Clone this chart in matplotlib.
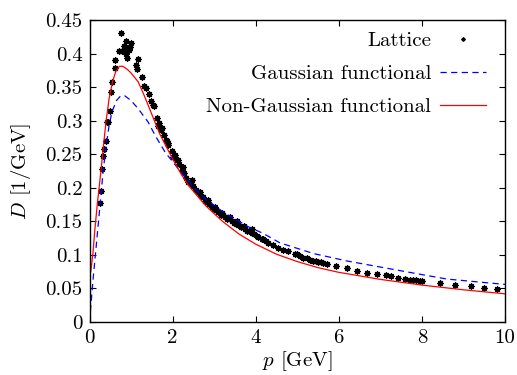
import matplotlib
matplotlib.use("Agg")
import matplotlib.pyplot as plt

plt.rcParams['font.family'] = 'serif'
plt.rcParams['font.serif'] = ['cmr10', 'DejaVu Serif']
plt.rcParams['mathtext.fontset'] = 'cm'
plt.rcParams['axes.formatter.use_mathtext'] = True
plt.rcParams['font.size'] = 15

# Lattice data (p in GeV, D in 1/GeV)
lat_p = [0.25, 0.27, 0.30, 0.33, 0.36, 0.39, 0.43, 0.45, 0.49, 0.51, 0.55, 0.61, 0.62,
         0.70, 0.75, 0.79, 0.83, 0.87, 0.87, 0.90, 0.91, 0.95, 0.97, 1.01, 1.11, 1.14,
         1.17, 1.26, 1.30, 1.35, 1.43, 1.49, 1.54, 1.55, 1.62, 1.66, 1.67, 1.72, 1.74,
         1.79, 1.83, 1.86, 1.88, 1.90, 1.98, 2.02, 2.06, 2.10, 2.14, 2.16, 2.22, 2.25,
         2.28, 2.33, 2.38, 2.42, 2.44, 2.46, 2.50, 2.56, 2.62, 2.66, 2.68, 2.74, 2.78,
         2.82, 2.85, 2.88, 2.94, 3.00, 3.03, 3.05, 3.10, 3.16, 3.20, 3.21, 3.26, 3.32,
         3.37, 3.38, 3.42, 3.48, 3.53, 3.55, 3.58, 3.64, 3.69, 3.72, 3.74, 3.80, 3.85,
         3.90, 3.90, 3.96, 4.02, 4.06, 4.14, 4.18, 4.24, 4.30, 4.42, 4.54, 4.66, 4.78,
         4.95, 4.99, 5.07, 5.15, 5.23, 5.31, 5.39, 5.45, 5.51, 5.57, 5.63, 5.71, 5.93,
         6.20, 6.45, 6.67, 6.91, 7.14, 7.26, 7.43, 7.59, 7.71, 7.79, 7.87, 7.95, 8.00,
         8.44, 8.80, 9.17, 9.49, 9.81]
lat_D = [0.177, 0.195, 0.228, 0.248, 0.258, 0.269, 0.298, 0.298, 0.314, 0.343, 0.357, 0.390, 0.379,
         0.404, 0.430, 0.404, 0.412, 0.419, 0.400, 0.394, 0.408, 0.405, 0.410, 0.415, 0.383, 0.377,
         0.392, 0.365, 0.352, 0.348, 0.340, 0.329, 0.323, 0.322, 0.304, 0.292, 0.297, 0.286, 0.289,
         0.279, 0.271, 0.269, 0.266, 0.264, 0.255, 0.246, 0.249, 0.242, 0.241, 0.236, 0.227, 0.231,
         0.222, 0.214, 0.209, 0.209, 0.206, 0.211, 0.202, 0.197, 0.194, 0.193, 0.188, 0.186, 0.181,
         0.179, 0.182, 0.176, 0.172, 0.168, 0.171, 0.167, 0.164, 0.160, 0.163, 0.159, 0.157, 0.154,
         0.153, 0.157, 0.150, 0.148, 0.146, 0.150, 0.145, 0.142, 0.141, 0.143, 0.139, 0.136, 0.135,
         0.133, 0.138, 0.131, 0.128, 0.127, 0.123, 0.124, 0.121, 0.118, 0.115, 0.111, 0.108, 0.106,
         0.102, 0.101, 0.098, 0.096, 0.095, 0.093, 0.091, 0.091, 0.090, 0.089, 0.088, 0.087, 0.084,
         0.080, 0.076, 0.073, 0.072, 0.070, 0.068, 0.066, 0.064, 0.063, 0.062, 0.062, 0.061, 0.061,
         0.058, 0.055, 0.053, 0.050, 0.049]

# Gaussian functional
gauss_p = [0.0, 0.085, 0.16, 0.25, 0.33, 0.40, 0.47, 0.54, 0.65, 0.75, 0.85, 1.0, 1.17,
           1.41, 1.58, 1.82, 2.14, 2.54, 2.78, 3.26, 3.82, 4.18, 4.58, 5.39, 6.19, 6.99,
           7.79, 8.6, 10.0]
gauss_D = [0.0, 0.063, 0.112, 0.172, 0.226, 0.262, 0.292, 0.313, 0.330, 0.337, 0.337, 0.330, 0.318,
           0.298, 0.278, 0.253, 0.228, 0.199, 0.184, 0.162, 0.142, 0.132, 0.118, 0.102, 0.091, 0.082,
           0.073, 0.064, 0.056]

# Non-Gaussian functional
ng_p = [0.03, 0.084, 0.125, 0.19, 0.27, 0.34, 0.40, 0.47, 0.55, 0.63, 0.72, 0.80, 0.90, 1.0,
        1.17, 1.30, 1.49, 1.60, 1.70, 2.0, 2.2, 2.4, 2.8, 3.2, 3.6, 4.0, 4.5, 5.0, 5.5, 6.0,
        7.0, 8.0, 9.0, 10.0]
ng_D = [0.075, 0.103, 0.135, 0.177, 0.222, 0.265, 0.300, 0.332, 0.357, 0.373, 0.381, 0.381, 0.377, 0.371,
        0.358, 0.340, 0.311, 0.294, 0.279, 0.243, 0.221, 0.202, 0.173, 0.150, 0.131, 0.116, 0.101, 0.090,
        0.081, 0.074, 0.0635, 0.055, 0.048, 0.042]

xticks = [0, 2, 4, 6, 8, 10]
xticklabels = ['0', '2', '4', '6', '8', '10']
yticks = [0, 0.05, 0.1, 0.15, 0.2, 0.25, 0.3, 0.35, 0.4, 0.45]
yticklabels = ['0', '0.05', '0.1', '0.15', '0.2', '0.25', '0.3', '0.35', '0.4', '0.45']

fig = plt.figure(figsize=(5.17, 3.75), dpi=100)
ax = fig.add_axes([89.5 / 517, 53 / 375, (505 - 89.5) / 517, (322 - 20) / 375])

ax.plot(lat_p, lat_D, linestyle='none', marker=(8, 2, 0), markersize=4.6,
        markeredgewidth=0.9, color='black', label='Lattice')
ax.plot(gauss_p, gauss_D, color='#0000ff', linewidth=0.9, dashes=(5, 3.5),
        label='Gaussian functional')
ax.plot(ng_p, ng_D, color='#ff0000', linewidth=0.9, label='Non-Gaussian functional')

ax.set_xlim(0, 10)
ax.set_ylim(0, 0.45)
ax.set_xticks(xticks)
ax.set_xticklabels(xticklabels)
ax.set_yticks(yticks)
ax.set_yticklabels(yticklabels)
ax.tick_params(direction='in', top=True, right=True, length=4, width=0.8, pad=5)
for s in ax.spines.values():
    s.set_linewidth(1.0)

ax.set_xlabel(r'$p$ [GeV]', labelpad=2)
ax.set_ylabel(r'$D$ [1/GeV]', labelpad=9)

leg = ax.legend(loc='upper right', bbox_to_anchor=(0.955, 0.962), frameon=False,
                markerfirst=False, handlelength=2.2, handletextpad=0.45,
                labelspacing=0.7, borderpad=0, borderaxespad=0, markerscale=0.6)

fig.savefig('out.png', dpi=100)
